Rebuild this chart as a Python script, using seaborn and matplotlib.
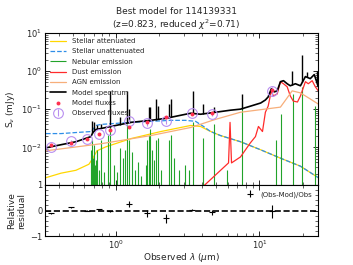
import numpy as np
import matplotlib
matplotlib.use("Agg")
import matplotlib.pyplot as plt
import seaborn as sns
from matplotlib.ticker import AutoMinorLocator

# photometry (observed frame, micron / mJy)
filt_wl = [0.355, 0.485, 0.625, 0.765, 0.91, 1.24, 1.65, 2.25, 3.4, 4.65, 12.2]
obs_flux = [0.0103, 0.0149, 0.0169, 0.0229, 0.0276, 0.0479, 0.0424, 0.0479, 0.0782, 0.0736, 0.302]
obs_err_rel = [0.02, 0.02, 0.02, 0.02, 0.02, 0.12, 0.14, 0.17, 0.02, 0.1, 0.26]
residual = [-0.1, 0.12, 0.0, 0.05, -0.03, 0.27, -0.1, -0.3, 0.03, -0.07, -0.03]

# stellar attenuated
att_wl = [0.326, 0.415, 0.527, 0.649, 0.692, 0.738, 0.852, 1.271, 2.054, 3.32, 3.89, 4.42, 4.95,
          5.36, 7.38, 8.66, 10.2, 14.0, 19.3, 25.7]
att_flux = [0.0016, 0.0021, 0.0025, 0.0036, 0.0052, 0.0081, 0.0103, 0.0169, 0.0259, 0.0374, 0.0352,
            0.0276, 0.0229, 0.0203, 0.014, 0.011, 0.0086, 0.0052, 0.0032, 0.0016]

# stellar unattenuated
unatt_wl = [0.326, 0.415, 0.527, 0.670, 0.692, 0.726, 0.787, 1.0, 1.271, 1.75, 2.41, 3.06, 3.59,
            4.08, 4.57, 5.36, 7.38, 8.66, 10.2, 14.0, 19.3, 25.7]
unatt_flux = [0.0229, 0.0229, 0.0244, 0.0259, 0.0293, 0.0374, 0.0398, 0.0424, 0.045, 0.0479, 0.0509,
              0.0509, 0.0479, 0.0352, 0.0259, 0.0203, 0.014, 0.011, 0.0086, 0.0052, 0.0032, 0.0016]

# nebular lines (wavelength, peak)
neb_wl = [0.676, 0.687, 0.698, 0.709, 0.721, 0.732, 0.744, 0.762, 0.793, 0.825, 0.887, 0.916,
          0.969, 1.016, 1.074, 1.127, 1.155, 1.202, 1.231, 1.291, 1.355, 1.422, 1.492, 1.615,
          1.655, 1.695, 1.737, 1.792, 1.836, 1.896, 1.973, 2.054, 2.333, 2.41, 2.53, 2.74,
          3.01, 3.21, 3.45, 4.05, 4.83, 5.90, 7.62, 13.1, 14.2, 17.2, 19.9, 24.3]
neb_peak = [0.0086, 0.0158, 0.0052, 0.0117, 0.0034, 0.0046, 0.0086, 0.0025, 0.0158, 0.0022,
            0.0215, 0.0374, 0.0034, 0.0022, 0.0097, 0.0052, 0.0086, 0.0398, 0.0158, 0.0076,
            0.0025, 0.0041, 0.0018, 0.0034, 0.0158, 0.0215, 0.0293, 0.0086, 0.0046, 0.0158,
            0.0179, 0.0025, 0.0158, 0.0215, 0.0052, 0.0025, 0.0034, 0.0025, 0.045, 0.0179,
            0.0398, 0.0025, 0.136, 0.0158, 0.0736, 0.251, 0.386, 0.12]

# dust emission
dust_wl = [3.77, 6.09, 6.24, 6.39, 7.38, 8.66, 9.38, 9.84, 10.5, 11.0, 11.5, 12.1, 12.5, 13.3,
           14.0, 14.7, 15.6, 16.4, 17.2, 18.4, 19.3, 20.9, 21.9, 23.3, 24.5, 25.7]
dust_flux = [0.00073, 0.0039, 0.045, 0.0039, 0.0056, 0.0132, 0.0191, 0.0352, 0.0259, 0.083,
             0.12, 0.302, 0.222, 0.251, 0.525, 0.464, 0.386, 0.222, 0.163, 0.154, 0.222, 0.525,
             0.464, 0.558, 0.386, 0.302]

# AGN emission
agn_wl = [0.326, 0.787, 1.75, 3.32, 4.95, 7.38, 14.0, 15.4, 16.9, 19.3, 22.6, 25.7]
agn_flux = [0.0081, 0.0124, 0.0203, 0.0331, 0.0541, 0.083, 0.113, 0.185, 0.302, 0.267, 0.185, 0.136]

# total model spectrum (continuum + line spikes)
model_wl = [0.326, 0.415, 0.527, 0.670, 0.692, 0.726, 0.787, 0.923, 1.083, 1.271, 1.492, 1.75,
            2.23, 2.83, 3.32, 3.89, 4.95, 6.29, 7.38, 8.66, 10.2, 11.0, 11.5, 12.1, 12.7, 13.3,
            14.0, 14.7, 15.6, 16.4, 17.8, 19.3, 20.9, 22.6, 24.1, 25.7]
model_flux = [0.0097, 0.0117, 0.014, 0.0191, 0.0244, 0.0293, 0.0311, 0.0352, 0.0398, 0.045,
              0.0479, 0.0509, 0.0575, 0.0692, 0.0782, 0.0736, 0.083, 0.094, 0.1, 0.12, 0.145,
              0.174, 0.209, 0.341, 0.284, 0.302, 0.525, 0.558, 0.464, 0.41, 0.464, 0.41, 0.714,
              0.631, 0.807, 0.386]
spike_wl = [0.687, 0.709, 0.744, 0.793, 0.916, 1.074, 1.202, 1.231, 1.695, 1.737, 1.896, 1.973,
            2.333, 2.41, 3.45, 4.05, 4.83, 7.62, 16.9, 19.9, 21.5, 25.0]
spike_peak = [0.0479, 0.045, 0.0374, 0.0398, 0.302, 0.0612, 0.302, 0.1, 0.113, 0.113, 0.185,
              0.12, 0.136, 0.185, 0.302, 0.136, 0.113, 0.25, 1.0, 2.6, 0.95, 1.0]

mod_flux = np.array(obs_flux) * (1 - np.array(residual))
obs_err = np.array(obs_flux) * np.array(obs_err_rel)

sns.set_style("ticks", {"xtick.direction": "in", "ytick.direction": "in",
                        "axes.edgecolor": "black"})
plt.rcParams["font.family"] = ["DejaVu Sans"]
plt.rcParams["mathtext.fontset"] = "dejavusans"

fig = plt.figure(figsize=(3.53, 2.65), dpi=100)
ax1 = fig.add_axes([0.127, 0.302, 0.774, 0.574])
ax2 = fig.add_axes([0.127, 0.109, 0.774, 0.193], sharex=ax1)
ax1.set_xscale("log")
ax1.set_yscale("log")

sns.lineplot(x=att_wl, y=att_flux, ax=ax1, color="gold", lw=0.9, estimator=None, sort=False,
             label="Stellar attenuated")
sns.lineplot(x=unatt_wl, y=unatt_flux, ax=ax1, color="#2e8ee8", lw=0.9, ls="--", estimator=None,
             sort=False, label="Stellar unattenuated")
ax1.vlines(neb_wl, 1e-4, neb_peak, color="#22a32a", lw=0.8, label="Nebular emission")
sns.lineplot(x=dust_wl, y=dust_flux, ax=ax1, color="#ff2b2b", lw=0.9, estimator=None, sort=False,
             label="Dust emission")
sns.lineplot(x=agn_wl, y=agn_flux, ax=ax1, color="#f7ae7a", lw=0.9, estimator=None, sort=False,
             label="AGN emission")
sns.lineplot(x=model_wl, y=model_flux, ax=ax1, color="black", lw=1.2, estimator=None, sort=False,
             label="Model spectrum")
# spikes start from the continuum underneath
spike_base = 10 ** np.interp(np.log10(spike_wl), np.log10(model_wl), np.log10(model_flux))
ax1.vlines(spike_wl, spike_base, spike_peak, color="black", lw=1.0)
sns.scatterplot(x=filt_wl, y=mod_flux, ax=ax1, color="#ff3050", s=8, linewidth=0, zorder=5,
                label="Model fluxes")
ax1.errorbar(filt_wl, obs_flux, yerr=obs_err, ls="", marker="o", mfc="none", mec="#b88ef0",
             ecolor="#b88ef0", ms=7, mew=0.8, elinewidth=0.8, capsize=0, label="Observed fluxes",
             zorder=4)

ax1.set_xlim(0.32, 25.6)
ax1.set_ylim(1.03e-3, 10)
ax1.set_ylabel(r"S$_{\nu}$ (mJy)", fontsize=6.5, labelpad=3)
ax1.tick_params(which="both", direction="in", top=True, right=True, labelsize=6,
                labelbottom=False, pad=2)
ax1.tick_params(which="major", length=3.5, width=0.7)
ax1.tick_params(which="minor", length=2, width=0.5)

order = ["Stellar attenuated", "Stellar unattenuated", "Nebular emission", "Dust emission",
         "AGN emission", "Model spectrum", "Model fluxes", "Observed fluxes"]
h, l = ax1.get_legend_handles_labels()
hd = dict(zip(l, h))
ax1.legend([hd[k] for k in order], order, loc="upper left", fontsize=5, frameon=False,
           labelspacing=0.62, handlelength=2.3, borderaxespad=0.35)

# residuals
ax2.errorbar(filt_wl, residual, yerr=obs_err_rel, marker="_", ls="None", color="black", ms=4,
             mew=0.8, elinewidth=0.8, capsize=0, label="(Obs-Mod)/Obs")
ax2.axhline(0, color="black", ls="--", lw=1.2)
ax2.set_ylim(-1, 1)
ax2.set_yticks([-1, 0, 1])
ax2.yaxis.set_minor_locator(AutoMinorLocator())
ax2.set_xlabel(r"Observed $\lambda$ ($\mu$m)", fontsize=6.5, labelpad=0)
ax2.set_ylabel("Relative\nresidual", fontsize=6.5, labelpad=3)
ax2.tick_params(which="both", direction="in", top=True, right=True, labelsize=6, pad=1.5)
ax2.tick_params(which="major", length=3.5, width=0.7)
ax2.tick_params(which="minor", length=2, width=0.5)
ax2.legend(loc="upper right", fontsize=5, frameon=False, handlelength=1.2)

fig.suptitle("Best model for 114139331\n(z=0.823, reduced $\\chi^2$=0.71)", fontsize=6.5,
             y=0.975)

fig.savefig("out.png", dpi=100)
